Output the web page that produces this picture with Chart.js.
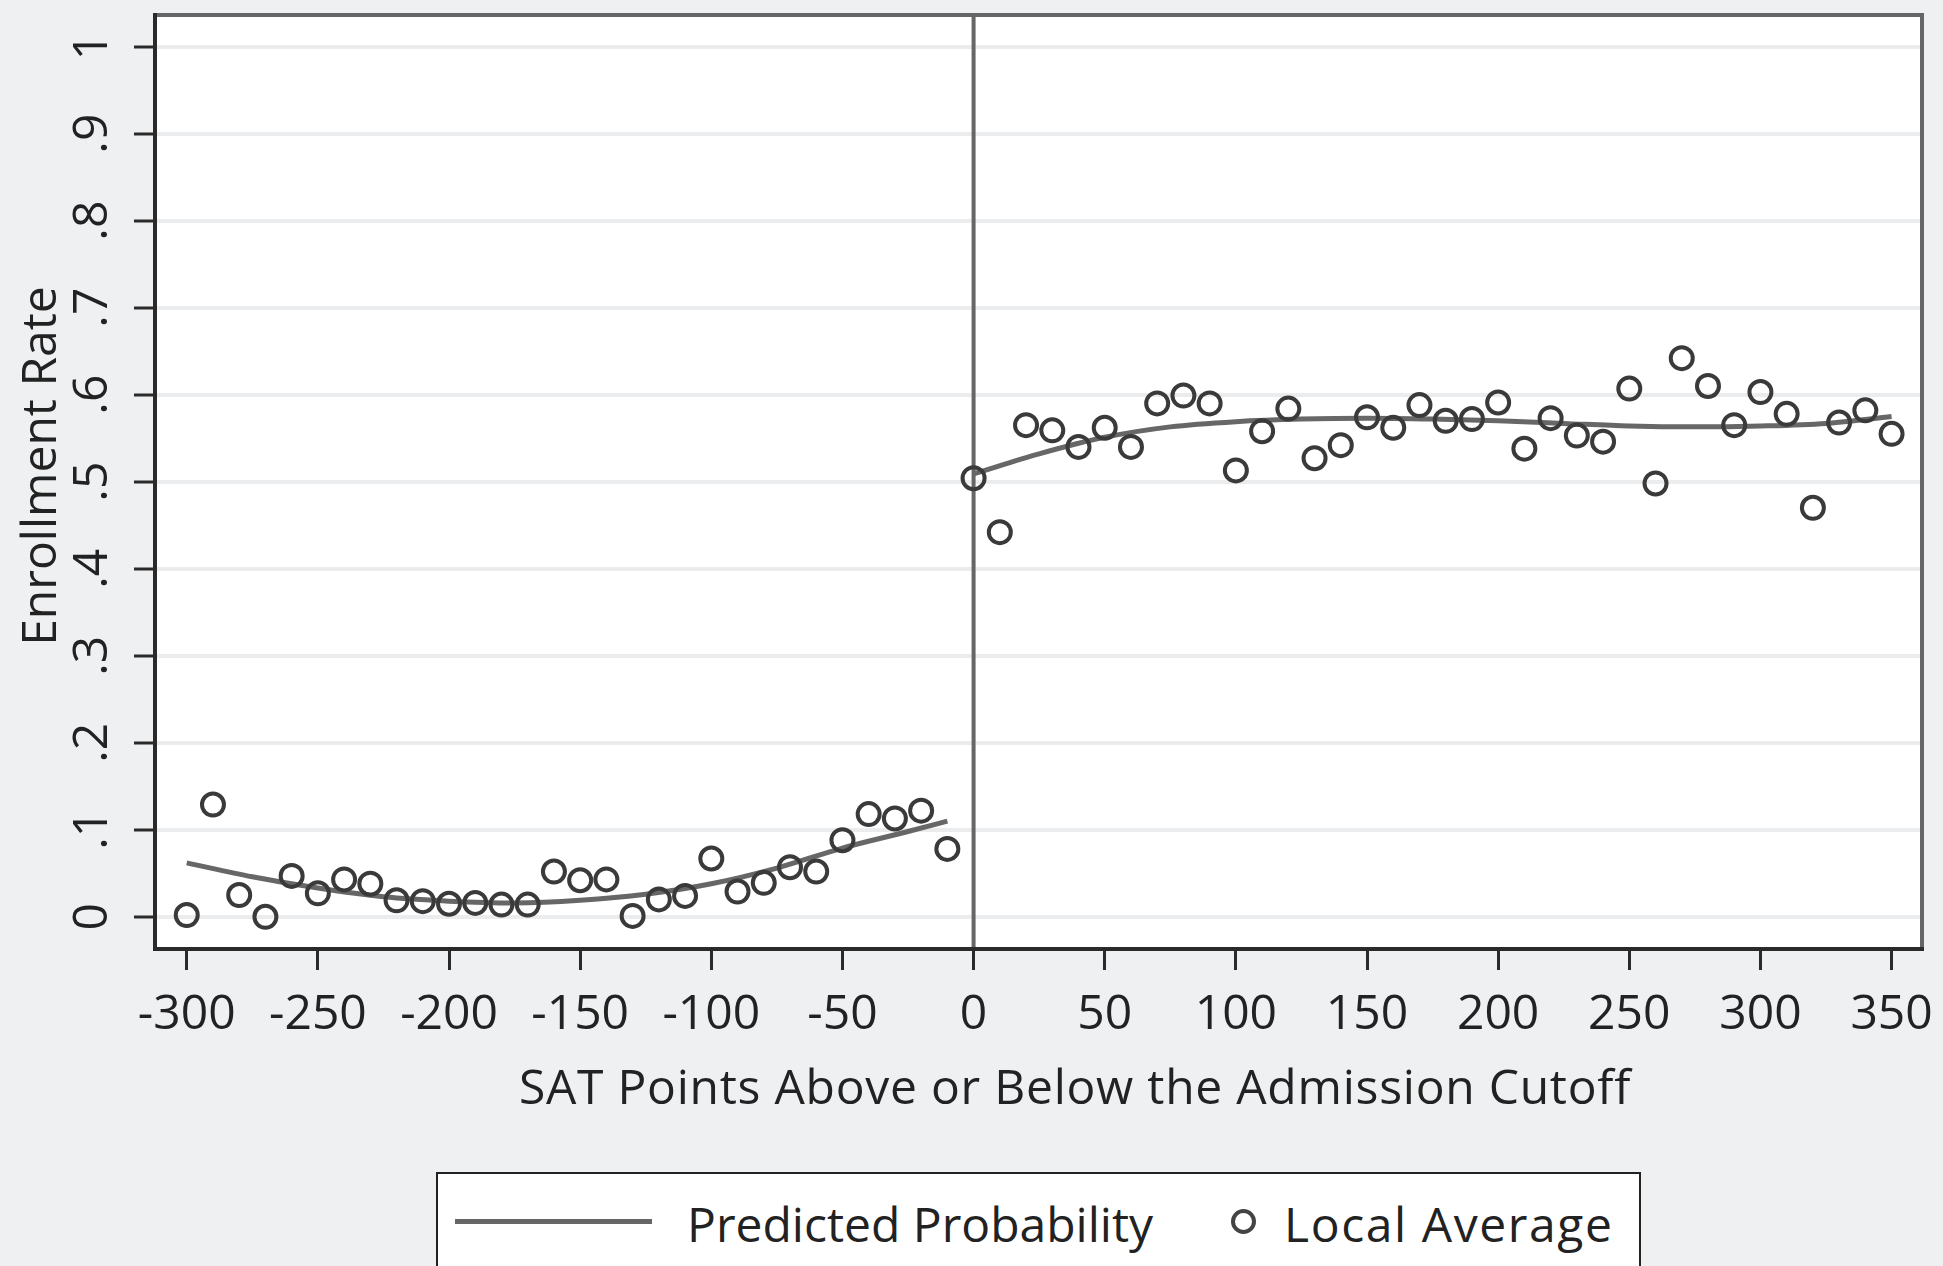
<!DOCTYPE html>
<html>
<head>
<meta charset="utf-8">
<script src="https://cdn.jsdelivr.net/npm/chart.js@4.4.1/dist/chart.umd.min.js"></script>
<style>
  body { margin: 0; background: #eff0f2; }
  #wrap { position: relative; width: 1943px; height: 1266px; overflow: hidden; }
  #legend {
    position: absolute; left: 436px; top: 1172px; width: 1205px; height: 160px;
    box-sizing: border-box; border: 2.5px solid #222; background: #fff;
    font-family: 'Open Sans', sans-serif; font-size: 48px; color: #222;
  }
  #legend .lg-line { position: absolute; left: 17px; top: 45px; width: 197px; height: 5px; background: #666; }
  #legend .lg-dot { position: absolute; left: 793px; top: 35px; width: 25px; height: 25px; box-sizing: border-box; border: 4.5px solid #444; border-radius: 50%; }
  #legend .lg-text { position: absolute; top: 21px; line-height: 58px; white-space: nowrap; }
</style>
</head>
<body>
<div id="wrap">
  <canvas id="myChart" width="1943" height="1266"></canvas>
  <div id="legend">
    <div class="lg-line"></div>
    <div class="lg-text" style="left: 249px;">Predicted Probability</div>
    <div class="lg-dot"></div>
    <div class="lg-text" style="left: 846px; letter-spacing: 1.6px;">Local Average</div>
  </div>
</div>
<script>
// 데이터
// 컷오프 아래쪽 구간 평균
const satBelow = [-300, -290, -280, -270, -260, -250, -240, -230, -220, -210,
                  -200, -190, -180, -170, -160, -150, -140, -130, -120, -110,
                  -100, -90, -80, -70, -60, -50, -40, -30, -20, -10];
const rateBelow = [0.002, 0.129, 0.025, 0.000, 0.047, 0.027, 0.043, 0.038, 0.019, 0.018,
                   0.015, 0.016, 0.014, 0.014, 0.052, 0.042, 0.043, 0.001, 0.020, 0.024,
                   0.067, 0.029, 0.039, 0.057, 0.052, 0.088, 0.118, 0.113, 0.122, 0.078];

// 컷오프 위쪽 구간 평균
const satAbove = [0, 10, 20, 30, 40, 50, 60, 70, 80, 90,
                  100, 110, 120, 130, 140, 150, 160, 170, 180, 190,
                  200, 210, 220, 230, 240, 250, 260, 270, 280, 290,
                  300, 310, 320, 330, 340, 350];
const rateAbove = [0.504, 0.442, 0.565, 0.559, 0.540, 0.562, 0.540, 0.590, 0.599, 0.590,
                   0.513, 0.558, 0.584, 0.527, 0.542, 0.574, 0.562, 0.588, 0.570, 0.572,
                   0.591, 0.538, 0.573, 0.553, 0.546, 0.607, 0.498, 0.642, 0.610, 0.565,
                   0.603, 0.578, 0.470, 0.568, 0.582, 0.555];

// 예측 확률 곡선 (두 구간)
const fitBelowX = [-300, -275, -250, -225, -200, -175, -150, -125, -100, -75, -50, -25, -10];
const fitBelowY = [0.062, 0.046, 0.033, 0.023, 0.018, 0.016, 0.019, 0.026, 0.038, 0.056, 0.079, 0.098, 0.110];
const fitAboveX = [0, 25, 50, 75, 100, 125, 150, 175, 200, 225, 250, 275, 300, 325, 350];
const fitAboveY = [0.509, 0.532, 0.551, 0.563, 0.569, 0.572, 0.573, 0.572, 0.570, 0.567, 0.564, 0.563, 0.564, 0.567, 0.575];

// 축 눈금
const xTickValues = [-300, -250, -200, -150, -100, -50, 0, 50, 100, 150, 200, 250, 300, 350];
const xTickLabels = ['-300', '-250', '-200', '-150', '-100', '-50', '0', '50', '100', '150', '200', '250', '300', '350'];
const yTickValues = [0, 0.1, 0.2, 0.3, 0.4, 0.5, 0.6, 0.7, 0.8, 0.9, 1];
const yTickLabels = ['0', '.1', '.2', '.3', '.4', '.5', '.6', '.7', '.8', '.9', '1'];

// 축 제목
const xTitle = 'SAT Points Above or Below the Admission Cutoff';
const yTitle = 'Enrollment Rate';

function toPoints(xs, ys) {
    return xs.map((x, i) => ({ x: x, y: ys[i] }));
}

Chart.defaults.font.family = "'Open Sans', sans-serif";
Chart.defaults.color = '#222';

// 배경, 0 기준선, 테두리, y축 숫자, 축 제목
const framePlugin = {
    id: 'frame',
    beforeDraw(chart) {
        const { ctx, chartArea: a } = chart;
        ctx.save();
        ctx.fillStyle = '#eff0f2';
        ctx.fillRect(0, 0, chart.width, chart.height);
        ctx.fillStyle = '#fff';
        ctx.fillRect(a.left, a.top, a.right - a.left, a.bottom - a.top);
        ctx.restore();
    },
    beforeDatasetsDraw(chart) {
        const { ctx, chartArea: a, scales } = chart;
        ctx.save();
        // 컷오프 세로선
        const x0 = scales.x.getPixelForValue(0);
        ctx.strokeStyle = '#666';
        ctx.lineWidth = 4;
        ctx.beginPath();
        ctx.moveTo(x0, a.top);
        ctx.lineTo(x0, a.bottom);
        ctx.stroke();
        // 위, 오른쪽 테두리
        ctx.strokeStyle = '#666';
        ctx.lineWidth = 4;
        ctx.beginPath();
        ctx.moveTo(a.left, a.top);
        ctx.lineTo(a.right, a.top);
        ctx.lineTo(a.right, a.bottom);
        ctx.stroke();
        // 왼쪽, 아래 테두리
        ctx.strokeStyle = '#2a2a2a';
        ctx.beginPath();
        ctx.moveTo(a.left, a.top - 2);
        ctx.lineTo(a.left, a.bottom);
        ctx.lineTo(a.right + 2, a.bottom);
        ctx.stroke();
        ctx.restore();
    },
    afterDraw(chart) {
        const { ctx, scales } = chart;
        ctx.save();
        ctx.fillStyle = '#222';
        ctx.font = "48px 'Open Sans', sans-serif";
        ctx.textAlign = 'center';
        ctx.textBaseline = 'middle';
        for (let i = 0; i < yTickValues.length; i++) {
            const y = scales.y.getPixelForValue(yTickValues[i]);
            ctx.save();
            ctx.translate(93, y);
            ctx.rotate(-Math.PI / 2);
            ctx.fillText(yTickLabels[i], 0, 0);
            ctx.restore();
        }
        // y축 제목
        ctx.save();
        ctx.translate(42, 466);
        ctx.rotate(-Math.PI / 2);
        ctx.fillText(yTitle, 0, 0);
        ctx.restore();
        // x축 제목 (글자 간격 조금 넓게)
        ctx.letterSpacing = '0.75px';
        ctx.fillText(xTitle, 1075, 1090);
        ctx.restore();
    }
};

// 축 바깥 여백은 직접 정함
function noScalePadding(s) {
    s.paddingLeft = 0;
    s.paddingRight = 0;
    s.paddingTop = 0;
    s.paddingBottom = 0;
}

let ctx = document.getElementById('myChart');

let config = {
    type: 'scatter',
    data: {
        datasets: [
            {
                label: 'Local Average',
                data: toPoints(satBelow, rateBelow).concat(toPoints(satAbove, rateAbove)),
                pointRadius: 11,
                pointHoverRadius: 11,
                pointBorderWidth: 4,
                borderColor: '#3a3a3a',
                backgroundColor: 'rgba(0,0,0,0)',
                order: 0
            },
            {
                label: 'Predicted Probability',
                type: 'line',
                data: toPoints(fitBelowX, fitBelowY),
                borderColor: '#676767',
                borderWidth: 5,
                pointRadius: 0,
                cubicInterpolationMode: 'monotone',
                fill: false,
                order: 1
            },
            {
                label: 'Predicted Probability (above)',
                type: 'line',
                data: toPoints(fitAboveX, fitAboveY),
                borderColor: '#676767',
                borderWidth: 5,
                pointRadius: 0,
                cubicInterpolationMode: 'monotone',
                fill: false,
                order: 1
            }
        ]
    },
    options: {
        responsive: false,
        animation: false,
        events: [],
        layout: { padding: { top: 11, right: 21, bottom: 145, left: 0 } },
        plugins: {
            legend: { display: false },
            tooltip: { enabled: false }
        },
        scales: {
            x: {
                type: 'linear',
                position: 'bottom',
                min: -312.1,
                max: 361.6,
                afterBuildTicks: s => { s.ticks = xTickValues.map(v => ({ value: v })); },
                afterFit: s => { s.height = 172; noScalePadding(s); },
                border: { display: false },
                grid: {
                    drawOnChartArea: false,
                    drawTicks: true,
                    tickLength: 21,
                    tickColor: '#2a2a2a',
                    tickWidth: 3
                },
                ticks: {
                    autoSkip: false,
                    maxRotation: 0,
                    padding: 17,
                    font: { size: 48 },
                    color: '#222',
                    callback: (v, i) => xTickLabels[i]
                },
                title: { display: false }
            },
            y: {
                type: 'linear',
                position: 'left',
                min: -0.037,
                max: 1.0363,
                afterBuildTicks: s => { s.ticks = yTickValues.map(v => ({ value: v })); },
                afterFit: s => { s.width = 155; noScalePadding(s); },
                border: { display: false },
                grid: {
                    color: '#ebecee',
                    lineWidth: 4,
                    drawTicks: true,
                    tickLength: 21,
                    tickColor: '#2a2a2a',
                    tickWidth: 3
                },
                ticks: { display: false },
                title: { display: false }
            }
        }
    },
    plugins: [framePlugin]
};

let myChart = new Chart(ctx, config);
</script>
</body>
</html>
